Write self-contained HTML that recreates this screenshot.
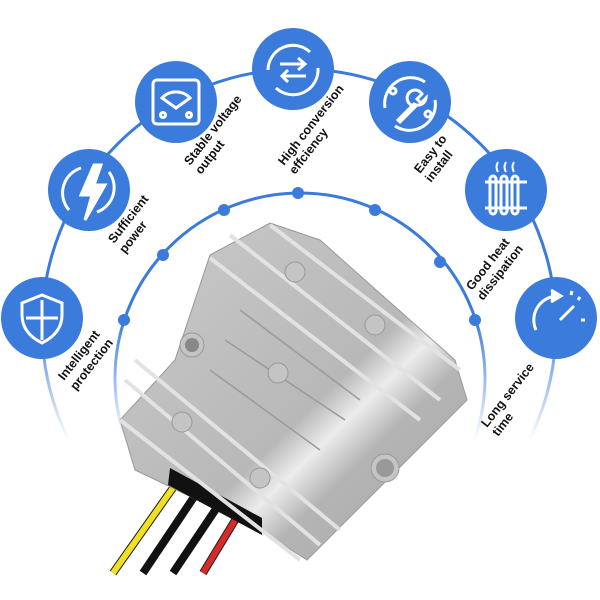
<!DOCTYPE html>
<html><head><meta charset="utf-8"><style>
body{margin:0;background:#fff;width:600px;height:600px;overflow:hidden}
svg{display:block}
text{font-family:"Liberation Sans",sans-serif;font-weight:bold;font-size:12.5px;fill:#111}
</style></head><body>
<svg width="600" height="600" viewBox="0 0 600 600">
<defs>
<linearGradient id="fade" gradientUnits="userSpaceOnUse" x1="0" y1="320" x2="0" y2="440">
<stop offset="0" stop-color="#3a7bdc"/><stop offset="1" stop-color="#3a7bdc" stop-opacity="0"/>
</linearGradient>
<linearGradient id="met" x1="0" y1="0" x2="1" y2="1">
<stop offset="0" stop-color="#cacaca"/><stop offset="0.55" stop-color="#b8b8b8"/><stop offset="0.62" stop-color="#ececec"/><stop offset="0.7" stop-color="#b4b4b4"/><stop offset="1" stop-color="#acacac"/>
</linearGradient>
</defs>
<circle cx="299" cy="326" r="257" fill="none" stroke="url(#fade)" stroke-width="3"/>
<circle cx="300" cy="378" r="185" fill="none" stroke="url(#fade)" stroke-width="3"/>
<rect x="0" y="445" width="600" height="155" fill="#fff"/>
<g fill="#3a7bdc">
<circle cx="298" cy="193" r="6"/><circle cx="224" cy="210" r="6"/><circle cx="375" cy="210" r="6"/>
<circle cx="163" cy="255" r="6"/><circle cx="440" cy="262" r="6"/><circle cx="124" cy="320" r="6"/><circle cx="475" cy="320" r="6"/>
<circle cx="293" cy="69" r="41"/><circle cx="176" cy="102" r="41"/><circle cx="410" cy="102" r="41"/>
<circle cx="89" cy="190" r="41"/><circle cx="506" cy="190" r="41"/><circle cx="42" cy="318" r="41"/><circle cx="556" cy="318" r="41"/>
</g>
<g fill="none" stroke="#fff" stroke-width="3">
<rect x="153" y="80" width="46" height="44" rx="4"/>
<path d="M162,98 A19,19 0 0 1 190,98 L176,108 Z"/>
<circle cx="163" cy="115" r="2.5"/><circle cx="189" cy="115" r="2.5"/>
<path d="M268,70 A25,25 0 0 1 310,52"/><path d="M318,68 A25,25 0 0 1 276,88"/>
<path d="M280,64 H305 M298,58 l7,6 -7,6 M306,76 H282 M288,70 l-6,6 6,6"/>
<path d="M385,108 A26,26 0 0 1 425,82"/><path d="M435,100 A26,26 0 0 1 395,126"/>
<circle cx="393" cy="91" r="3"/><circle cx="428" cy="114" r="3"/>
<path d="M400,122 l16,-16 a8,8 0 1 1 6,-12 l-5,5 4,4 5,-5 a8,8 0 0 1 -12,6 l-16,16 z"/>
<path d="M69,210 A26,26 0 0 1 81,168 M109,172 A26,26 0 0 1 97,212"/>
<path d="M94,165 L81,195 H92 L85,220 L105,185 H94 L101,165 Z" fill="#fff"/>
<path d="M485,182 h42 M485,208 h42"/>
<rect x="490" y="176" width="6" height="38" rx="3"/><rect x="501" y="176" width="6" height="38" rx="3"/><rect x="512" y="176" width="6" height="38" rx="3"/>
<path d="M498,162 q-3,5 0,10 M506,162 q-3,5 0,10 M514,162 q-3,5 0,10" stroke-width="2"/>
<path d="M42,295 l20,8 v12 q0,18 -20,28 q-20,-10 -20,-28 v-12 z"/>
<path d="M42,300 v40 M26,318 h32"/>
<path d="M536,330 A24,24 0 0 1 558,296"/><path d="M551,290 l10,6 -10,6" fill="#fff"/>
<path d="M574,306 l-14,14"/><path d="M578,300 l2,-3 M581,320 h4 M571,295 l1,-4"/>
</g>
<text transform="translate(190,166) rotate(-52)">Stable voltage</text>
<text transform="translate(201,175) rotate(-52)">output</text>
<text transform="translate(284,166) rotate(-52)">High conversion</text>
<text transform="translate(295,175) rotate(-52)">effciency</text>
<text transform="translate(420,174) rotate(-52)">Easy to</text>
<text transform="translate(431,183) rotate(-52)">install</text>
<text transform="translate(114,244) rotate(-52)">Sufficient</text>
<text transform="translate(125,254) rotate(-52)">power</text>
<text transform="translate(472,291) rotate(-52)">Good heat</text>
<text transform="translate(483,301) rotate(-52)">dissipation</text>
<text transform="translate(64,381) rotate(-52)">Intelligent</text>
<text transform="translate(76,391) rotate(-52)">protection</text>
<text transform="translate(487,428) rotate(-52)">Long service</text>
<text transform="translate(498,437) rotate(-52)">time</text>
<g stroke-linecap="butt">
<line x1="180" y1="478" x2="113" y2="573" stroke="#1a1a1a" stroke-width="8"/><line x1="180" y1="478" x2="113" y2="573" stroke="#f0e020" stroke-width="6"/>
<line x1="200" y1="488" x2="143" y2="573" stroke="#111" stroke-width="8"/>
<line x1="222" y1="500" x2="173" y2="573" stroke="#111" stroke-width="8"/>
<line x1="240" y1="512" x2="203" y2="573" stroke="#222" stroke-width="8"/><line x1="240" y1="512" x2="203" y2="573" stroke="#d82a2a" stroke-width="6"/>
</g>
<polygon points="270,223 320,240 455,360 467,400 307,560 260,530 135,470 120,420 175,360 210,255" fill="url(#met)" stroke="#999" stroke-width="1"/>
<polygon points="170,468 262,518 262,535 168,485" fill="#111"/>
<g stroke="#e2e2e2" stroke-width="4" fill="none">
<path d="M270,225 L460,370"/><path d="M230,235 L440,400"/><path d="M210,258 L420,420"/>
<path d="M135,360 L340,530"/><path d="M125,380 L320,545"/><path d="M120,420 L300,560"/>
</g>
<g stroke="#9a9a9a" stroke-width="1.5" fill="none">
<path d="M240,310 L360,400"/><path d="M225,340 L345,420"/><path d="M210,370 L320,450"/>
</g>
<g fill="#c4c4c4" stroke="#999">
<circle cx="295" cy="272" r="10"/><circle cx="375" cy="325" r="10"/><circle cx="278" cy="373" r="10"/>
<circle cx="182" cy="422" r="10"/><circle cx="260" cy="478" r="10"/>
<circle cx="192" cy="345" r="12"/><circle cx="385" cy="468" r="14"/>
</g>
<circle cx="192" cy="345" r="7" fill="#888"/><circle cx="385" cy="468" r="9" fill="#999"/>
</svg>
</body></html>
